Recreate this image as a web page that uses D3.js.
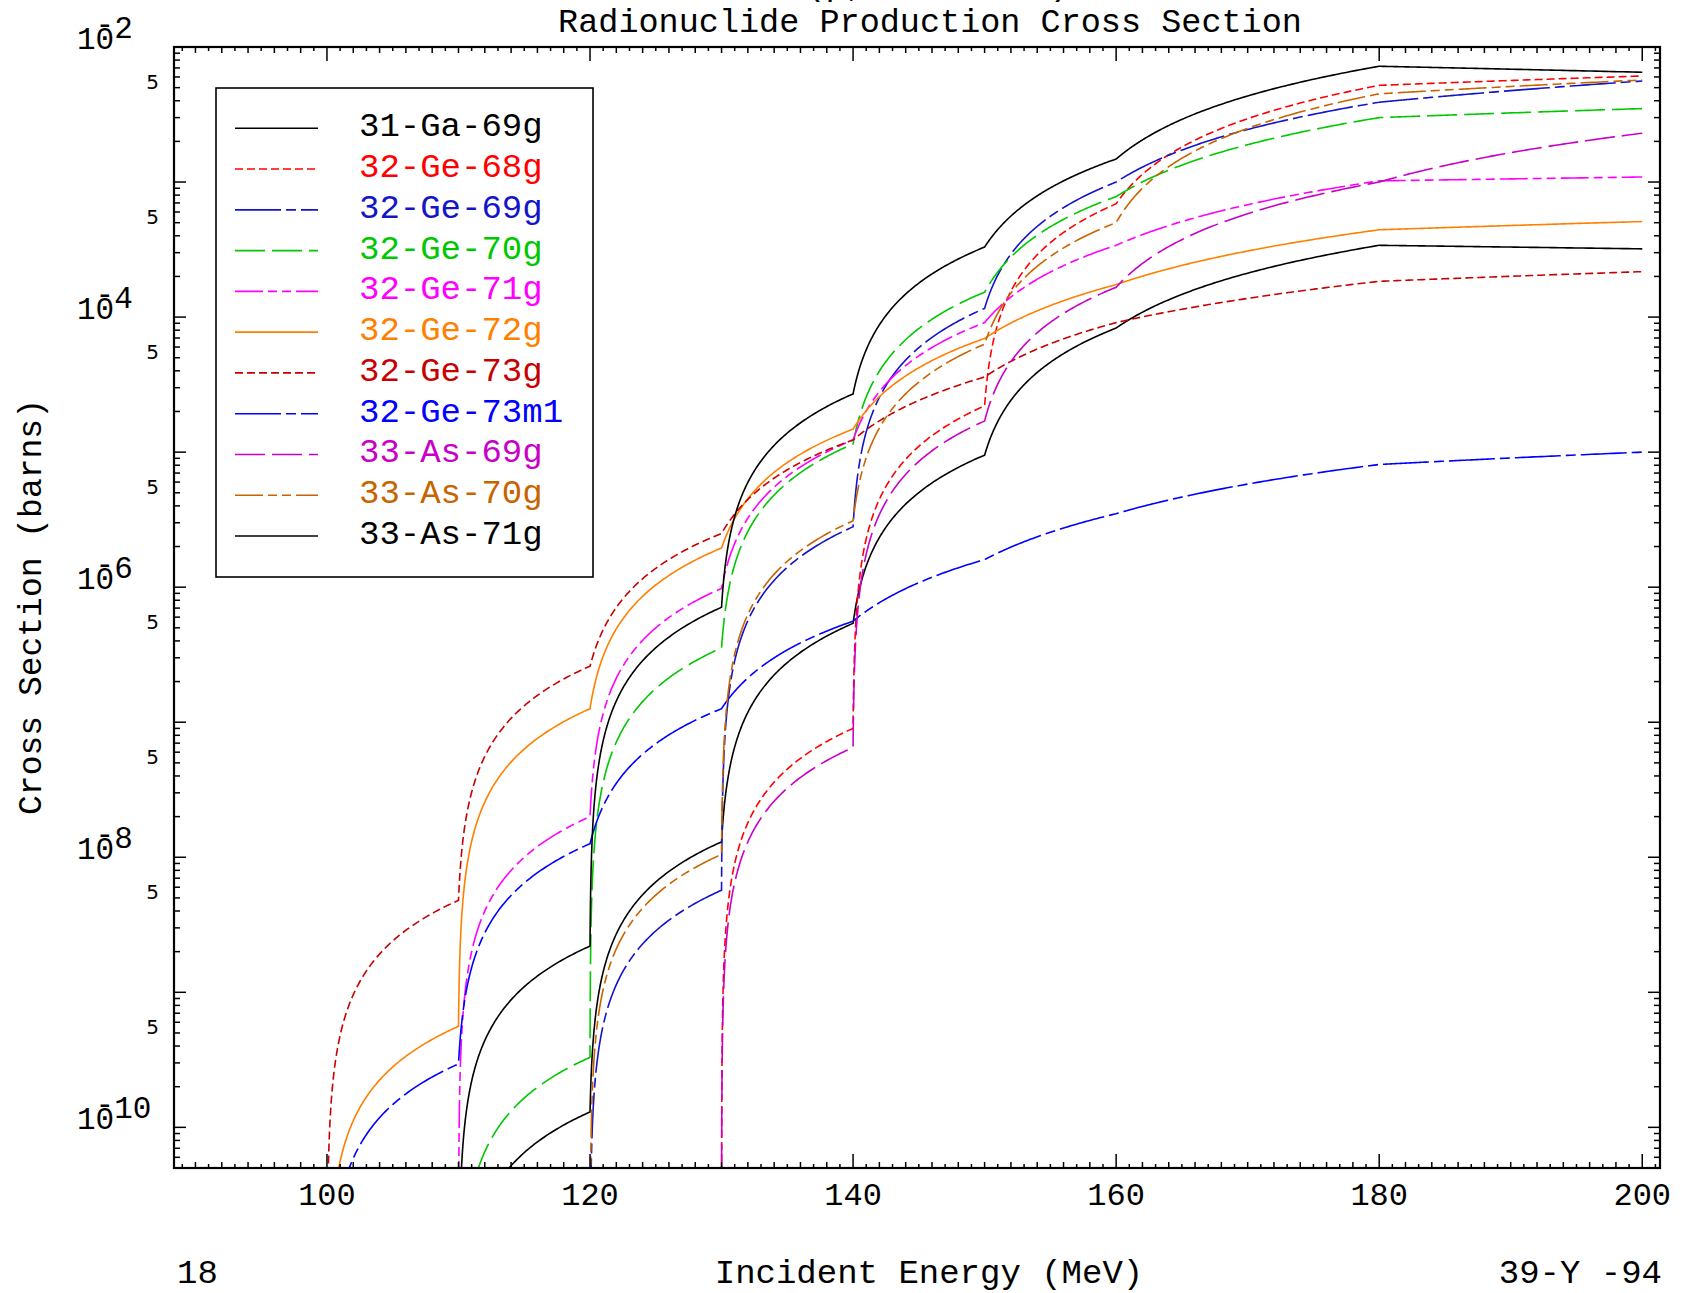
<!DOCTYPE html>
<html>
<head>
<meta charset="utf-8">
<script src="https://cdn.jsdelivr.net/npm/d3@7"></script>
<style>
  body { margin: 0; background: #fff; }
  text { font-family: "Liberation Mono", "DejaVu Sans Mono", monospace; fill: #000; }
  .minor5 { font-family: "DejaVu Sans", sans-serif; }
</style>
</head>
<body>
<svg id="chart"></svg>
<script>
// energy grid (MeV) and cross sections (barns)
var energies = [100, 110, 120, 130, 140, 150, 160, 180, 200];

var ga69g  = [0, 0, 1.3e-10, 1.3e-8, 5.4e-7, 9.5e-6, 8.3e-5, 3.4e-4, 3.2e-4];
var ge68g  = [0, 0, 0, 0, 9.0e-8, 2.2e-5, 6.9e-4, 5.2e-3, 6.1e-3];
var ge69g  = [0, 0, 0, 5.7e-9, 2.8e-6, 1.16e-4, 1.0e-3, 3.9e-3, 5.6e-3];
var ge70g  = [0, 0, 3.3e-10, 3.55e-7, 1.15e-5, 1.53e-4, 7.8e-4, 3.0e-3, 3.5e-3];
var ge71g  = [0, 0, 2.0e-8, 9.8e-7, 1.23e-5, 9.1e-5, 3.4e-4, 1.02e-3, 1.09e-3];
var ge72g  = [0, 5.6e-10, 1.26e-7, 1.95e-6, 1.48e-5, 6.95e-5, 1.74e-4, 4.43e-4, 5.1e-4];
var ge73g  = [0, 4.8e-9, 2.6e-7, 2.5e-6, 1.23e-5, 3.6e-5, 9.1e-5, 1.84e-4, 2.17e-4];
var ge73m1 = [0, 2.95e-10, 1.26e-8, 1.26e-7, 5.6e-7, 1.6e-6, 3.5e-6, 8.1e-6, 1.0e-5];
var as69g  = [0, 0, 0, 0, 6.5e-8, 1.7e-5, 1.66e-4, 1.0e-3, 2.3e-3];
var as70g  = [0, 0, 0, 1.05e-8, 3.1e-6, 6.3e-5, 5.0e-4, 4.5e-3, 5.7e-3];
var as71g  = [0, 0, 2.2e-9, 7.1e-7, 2.7e-5, 3.3e-4, 1.48e-3, 7.2e-3, 6.5e-3];

var names  = ["31-Ga-69g", "32-Ge-68g", "32-Ge-69g", "32-Ge-70g", "32-Ge-71g", "32-Ge-72g",
              "32-Ge-73g", "32-Ge-73m1", "33-As-69g", "33-As-70g", "33-As-71g"];
var series = [ga69g, ge68g, ge69g, ge70g, ge71g, ge72g, ge73g, ge73m1, as69g, as70g, as71g];

var xTickLabels = [100, 120, 140, 160, 180, 200];
var decadeLabels = [2, 4, 6, 8, 10];

// styles
var colors = ["#000000", "#ff0000", "#1414c8", "#00c800", "#ff00ff", "#ff8000",
              "#c80000", "#0000ff", "#c800c8", "#c86400", "#000000"];
var dashes = [null, "8,4", "46,5,10,5", "30,7", "28,5,9,5,9,5", null,
              "8,4", "46,5,10,5", "30,7", "28,5,9,5,9,5", null];

var svgWidth = 1684, svgHeight = 1293;
var plot = { left: 174, top: 47, right: 1660, bottom: 1168 };

var svg = d3.select("#chart")
  .attr("width", svgWidth)
  .attr("height", svgHeight);

var x = d3.scaleLinear().domain([88.37, 201.35]).range([plot.left, plot.right]);
var y = d3.scaleLog().domain([5e-11, 1e-2]).range([plot.bottom, plot.top]);

svg.append("clipPath").attr("id", "plot-clip")
  .append("rect")
  .attr("x", plot.left).attr("y", plot.top)
  .attr("width", plot.right - plot.left).attr("height", plot.bottom - plot.top);

// lin-lin interpolation between the tabulated points, as the original plotter does
function linLin(E, v) {
  var pts = [];
  for (var i = 0; i < E.length - 1; i++) {
    var n = 160;
    for (var k = (i === 0 ? 0 : 1); k <= n; k++) {
      var t = Math.pow(k / n, 3);
      pts.push([E[i] + t * (E[i + 1] - E[i]), v[i] + t * (v[i + 1] - v[i])]);
    }
  }
  return pts;
}

var line = d3.line()
  .x(function(d) { return x(d[0]); })
  .y(function(d) { return y(Math.max(d[1], 1e-14)); });

var curves = svg.append("g").attr("clip-path", "url(#plot-clip)");
series.forEach(function(s, i) {
  curves.append("path")
    .attr("d", line(linLin(energies, s)))
    .attr("fill", "none")
    .attr("stroke", colors[i])
    .attr("stroke-width", 1.6)
    .attr("stroke-dasharray", dashes[i]);
});

// ticks
var ticks = svg.append("g").attr("stroke", "#000").attr("stroke-width", 1.5);
for (var e = 89; e <= 201; e++) {
  var len = (e % 20 === 0) ? 14 : (e % 2 === 0 ? 6 : 4);
  var xe = x(e);
  ticks.append("line").attr("x1", xe).attr("x2", xe).attr("y1", plot.bottom).attr("y2", plot.bottom - len);
  ticks.append("line").attr("x1", xe).attr("x2", xe).attr("y1", plot.top).attr("y2", plot.top + len);
}
for (var p = -11; p <= -3; p++) {
  for (var m = 1; m <= 9; m++) {
    var val = m * Math.pow(10, p);
    if (val < 5e-11 || val > 1e-2) continue;
    var yv = y(val);
    var l = (m === 1) ? 12 : 6;
    ticks.append("line").attr("x1", plot.left).attr("x2", plot.left + l).attr("y1", yv).attr("y2", yv);
    ticks.append("line").attr("x1", plot.right).attr("x2", plot.right - l).attr("y1", yv).attr("y2", yv);
  }
}

// frame
svg.append("rect")
  .attr("x", plot.left).attr("y", plot.top)
  .attr("width", plot.right - plot.left).attr("height", plot.bottom - plot.top)
  .attr("fill", "none").attr("stroke", "#000").attr("stroke-width", 2.2);

// x tick labels
svg.selectAll(".xlab").data(xTickLabels).enter().append("text")
  .attr("class", "xlab")
  .attr("x", function(d) { return x(d); })
  .attr("y", 1205)
  .attr("text-anchor", "middle")
  .style("font-size", "32px")
  .text(function(d) { return d; });

// y labels: "5" at 5x10^n, powers of ten on even decades
for (var q = -10; q <= -3; q++) {
  svg.append("text").attr("class", "minor5")
    .attr("x", 159).attr("y", y(5 * Math.pow(10, q)) + 1)
    .attr("text-anchor", "end")
    .style("font-size", "20px")
    .text("5");
}
// plotter style: minus drawn as a bar over the "0", exponent raised after it
decadeLabels.forEach(function(n) {
  var t = svg.append("text")
    .attr("x", 77).attr("y", y(Math.pow(10, -n)) + 2)
    .style("font-size", "31px")
    .text("10");
  t.append("tspan").attr("dx", -18.6).attr("dy", -15).text("-");
  t.append("tspan").attr("dy", 4).text(n);
});

// titles
svg.append("text").attr("x", 805).attr("y", -5)
  .style("font-size", "34px").text("(p,x nuclide)");
svg.append("text").attr("x", 930).attr("y", 32)
  .attr("text-anchor", "middle").style("font-size", "33.5px")
  .text("Radionuclide Production Cross Section");
svg.append("text").attr("x", 929).attr("y", 1283)
  .attr("text-anchor", "middle").style("font-size", "34px")
  .text("Incident Energy (MeV)");
svg.append("text").attr("x", 177).attr("y", 1283)
  .style("font-size", "34px").text("18");
svg.append("text").attr("x", 1662).attr("y", 1283)
  .attr("text-anchor", "end").style("font-size", "34px")
  .text("39-Y -94");
svg.append("text")
  .attr("transform", "translate(41, 607) rotate(-90)")
  .attr("text-anchor", "middle").style("font-size", "33px")
  .text("Cross Section (barns)");

// legend
var legend = svg.append("g");
legend.append("rect")
  .attr("x", 216).attr("y", 88).attr("width", 377).attr("height", 489)
  .attr("fill", "#fff").attr("stroke", "#000").attr("stroke-width", 1.6);
names.forEach(function(name, i) {
  var ly = 128.3 + i * 40.77;
  legend.append("line")
    .attr("x1", 235).attr("x2", 318).attr("y1", ly).attr("y2", ly)
    .attr("stroke", colors[i]).attr("stroke-width", 1.6)
    .attr("stroke-dasharray", dashes[i]);
  legend.append("text")
    .attr("x", 359).attr("y", ly + 8)
    .style("font-size", "34px")
    .style("fill", colors[i])
    .text(name);
});
</script>
</body>
</html>
